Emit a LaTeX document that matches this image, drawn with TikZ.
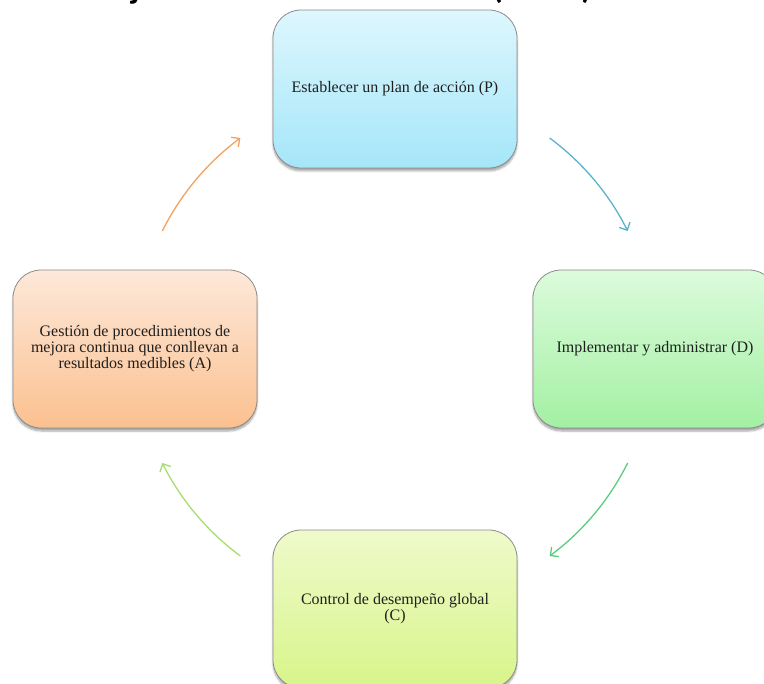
\documentclass[tikz,border=0pt]{standalone}
\usepackage{fontspec}
\setmainfont{Liberation Serif}
\newfontfamily\titlefont{Carlito}
\usetikzlibrary{arrows.meta,shadows.blur}
\definecolor{pTop}{HTML}{DDF7FD}
\definecolor{pBot}{HTML}{A5E6F9}
\definecolor{aTop}{HTML}{FDE8DA}
\definecolor{aBot}{HTML}{FBC18F}
\definecolor{dTop}{HTML}{DCFBDC}
\definecolor{dBot}{HTML}{A3F0A3}
\definecolor{cTop}{HTML}{EFFACB}
\definecolor{cBot}{HTML}{D8F58A}
\definecolor{arrP}{HTML}{5BB3CB}
\definecolor{arrD}{HTML}{5ACD7C}
\definecolor{arrC}{HTML}{A7DD6F}
\definecolor{arrA}{HTML}{F2A15F}
\begin{document}
\begin{tikzpicture}[x=1pt,y=1pt,
  box/.style={draw=black!45, line width=0.8pt, rounded corners=28pt,
    minimum width=244pt, minimum height=158pt, inner sep=0pt, align=center,
    text=black!88, font=\fontsize{16}{16}\selectfont,
    blur shadow={shadow xshift=0pt, shadow yshift=-3pt, shadow blur steps=6, shadow opacity=35}},
  cyc/.style={line width=1.3pt, -{Straight Barb[length=6pt,width=12pt]}}
]
\useasboundingbox (0,0) rectangle (764,-684);
\clip (0,0) rectangle (764,-684);
\node[anchor=base east, inner sep=0pt, font=\titlefont\bfseries\fontsize{34}{34}\selectfont] (title) at (592,1) {Ciclo de mejora continua del modelo (PHVA)};
\node[box, top color=pTop, bottom color=pBot] (P) at (395,-89) {Establecer un plan de acción (P)};
\node[box, top color=dTop, bottom color=dBot] (D) at (655,-349) {Implementar y administrar (D)};
\node[box, top color=cTop, bottom color=cBot] (C) at (395,-609) {Control de desempeño global\\(C)};
\node[box, top color=aTop, bottom color=aBot] (A) at (135,-349) {Gestión de procedimientos de\\mejora continua que conllevan a\\resultados medibles (A)};
\coordinate (ctr) at (395,-347);
\path (ctr) ++(53.5:260pt) coordinate (pd0);
\path (ctr) ++(-26.5:260pt) coordinate (dc0);
\path (ctr) ++(-126.5:260pt) coordinate (ca0);
\path (ctr) ++(153.5:260pt) coordinate (ap0);
\draw[cyc, draw=arrP] (pd0) arc[start angle=53.5, end angle=26.5, radius=260pt];
\draw[cyc, draw=arrD] (dc0) arc[start angle=-26.5, end angle=-53.5, radius=260pt];
\draw[cyc, draw=arrC] (ca0) arc[start angle=-126.5, end angle=-153.5, radius=260pt];
\draw[cyc, draw=arrA] (ap0) arc[start angle=153.5, end angle=126.5, radius=260pt];
\end{tikzpicture}
\end{document}
